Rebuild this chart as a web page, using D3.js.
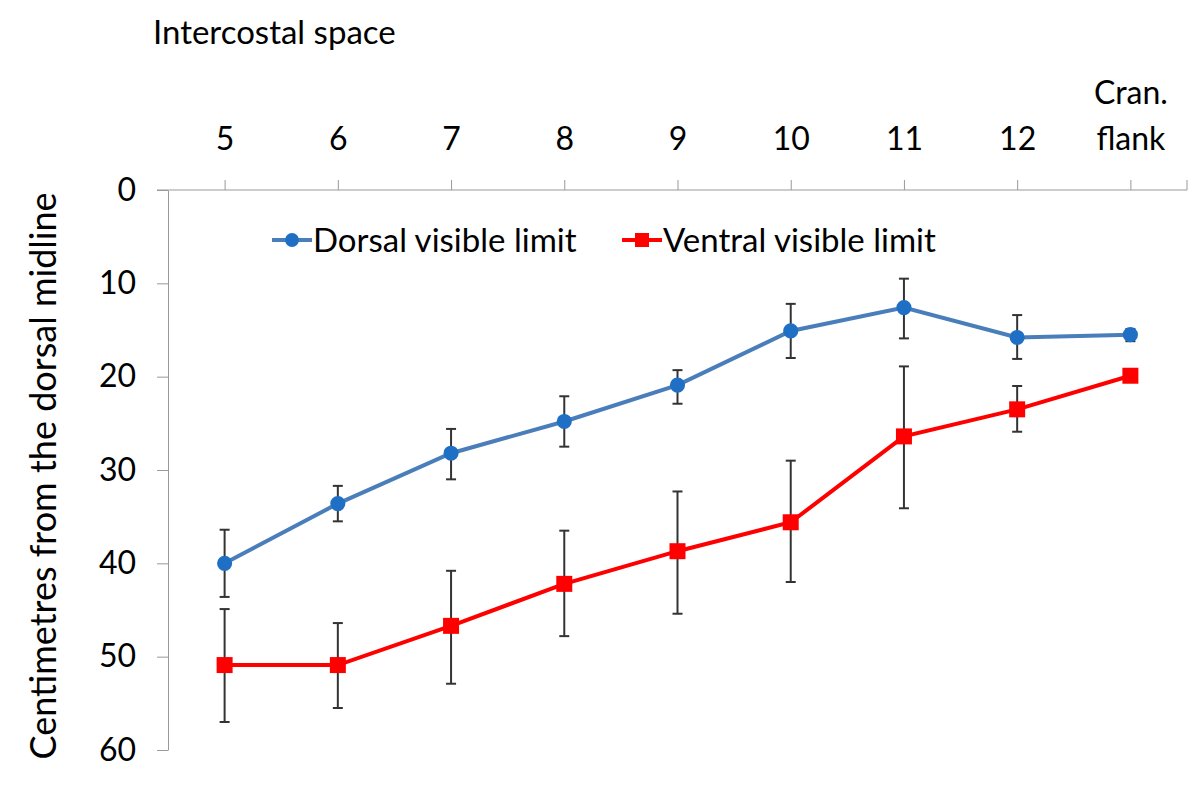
<!DOCTYPE html>
<html>
<head>
<meta charset="utf-8">
<script src="https://cdn.jsdelivr.net/npm/d3@7"></script>
<style>
  body { margin: 0; background: white; }
  svg, svg text { font-family: Lato, "Open Sans", sans-serif; }
</style>
</head>
<body>
<div id="chart"></div>
<script>
// data
var categories = [ "5", "6", "7", "8", "9", "10", "11", "12", "Cran. flank" ];
var dorsal     = [ 40.0, 33.6, 28.2, 24.8, 20.9, 15.1, 12.6, 15.8, 15.5 ];
var dorsalLo   = [ 36.4, 31.7, 25.6, 22.1, 19.3, 12.2, 9.5, 13.4, 14.9 ];
var dorsalHi   = [ 43.6, 35.5, 31.0, 27.5, 22.9, 18.0, 15.9, 18.1, 16.2 ];
var ventral    = [ 50.9, 50.9, 46.7, 42.2, 38.7, 35.6, 26.4, 23.5, 19.9 ];
var ventralLo  = [ 44.9, 46.4, 40.8, 36.5, 32.3, 29.0, 18.9, 21.0, 19.6 ];
var ventralHi  = [ 57.0, 55.5, 52.9, 47.8, 45.4, 42.0, 34.1, 25.9, 20.2 ];
var yTicks     = [ 0, 10, 20, 30, 40, 50, 60 ];

var width = 1200, height = 803;
var plot = { left: 168, right: 1187, top: 190, bottom: 750 };

var blueLine = "#4a7ebb", blueDot = "#1f6fc5", red = "#ff0000";

var svg = d3.select( "#chart" ).append( "svg" )
    .attr( "width", width )
    .attr( "height", height );

// scales
var x = d3.scalePoint().domain( categories ).range( [ plot.left, plot.right ] ).padding( 0.5 );
var y = d3.scaleLinear().domain( [ 0, 60 ] ).range( [ plot.top, plot.bottom ] );

// y axis
var yAxis = svg.append( "g" )
    .attr( "transform", "translate(" + plot.left + ",0)" )
    .call( d3.axisLeft( y ).tickValues( yTicks ).tickSize( 11 ).tickSizeOuter( 0 ).tickPadding( 21 ) );
yAxis.attr( "font-family", null ).attr( "font-size", null );
yAxis.selectAll( "path, line" ).attr( "stroke", "#999" );
yAxis.selectAll( "text" ).style( "font-size", "32px" ).attr( "fill", "#000" );

// x axis on top
var xAxis = svg.append( "g" )
    .attr( "transform", "translate(0," + plot.top + ")" )
    .call( d3.axisTop( x ).tickSize( 10 ).tickSizeOuter( 0 ).tickPadding( 30 ) );
xAxis.attr( "font-family", null ).attr( "font-size", null );
xAxis.select( ".domain" ).attr( "d", "M" + ( plot.left - 11 ) + ",0H" + plot.right );
xAxis.selectAll( "path, line" ).attr( "stroke", "#999" );
xAxis.append( "line" )
    .attr( "x1", plot.right ).attr( "x2", plot.right )
    .attr( "y1", 0 ).attr( "y2", -10 )
    .attr( "stroke", "#999" );
xAxis.selectAll( "text" )
    .style( "font-size", "32px" )
    .attr( "fill", "#000" )
    .each( function( d ) {
        var parts = d.split( " " );
        if( parts.length > 1 ) {
            var t = d3.select( this ).text( null );
            t.append( "tspan" ).attr( "x", 0 ).attr( "dy", "-1.45em" ).text( parts[ 0 ] );
            t.append( "tspan" ).attr( "x", 0 ).attr( "dy", "1.45em" ).text( parts[ 1 ] );
        }
    });

// axis titles
svg.append( "text" )
    .attr( "x", 153 ).attr( "y", 44 )
    .style( "font-size", "33px" )
    .text( "Intercostal space" );

svg.append( "text" )
    .attr( "transform", "translate(56,476) rotate(-90)" )
    .style( "text-anchor", "middle" )
    .style( "font-size", "36px" )
    .text( "Centimetres from the dorsal midline" );

// series drawing
function drawSeries( values, lo, hi, lineColor, markColor, shape )
{
    var g = svg.append( "g" );
    var idx = d3.range( values.length );

    // error bars
    var eb = g.selectAll( ".err" ).data( idx ).enter().append( "g" )
        .attr( "stroke", "#333" ).attr( "stroke-width", 2 );
    eb.append( "line" )
        .attr( "x1", function( i ) { return x( categories[ i ] ); } )
        .attr( "x2", function( i ) { return x( categories[ i ] ); } )
        .attr( "y1", function( i ) { return y( lo[ i ] ); } )
        .attr( "y2", function( i ) { return y( hi[ i ] ); } );
    [ lo, hi ].forEach( function( arr ) {
        eb.append( "line" )
            .attr( "x1", function( i ) { return x( categories[ i ] ) - 5; } )
            .attr( "x2", function( i ) { return x( categories[ i ] ) + 5; } )
            .attr( "y1", function( i ) { return y( arr[ i ] ); } )
            .attr( "y2", function( i ) { return y( arr[ i ] ); } );
    });

    // line
    var line = d3.line()
        .x( function( i ) { return x( categories[ i ] ); } )
        .y( function( i ) { return y( values[ i ] ); } );
    g.append( "path" )
        .datum( idx )
        .attr( "d", line )
        .attr( "fill", "none" )
        .attr( "stroke", lineColor )
        .attr( "stroke-width", 4 );

    // markers
    g.selectAll( ".mark" ).data( idx ).enter()
        .append( "path" )
        .attr( "transform", function( i ) { return "translate(" + x( categories[ i ] ) + "," + y( values[ i ] ) + ")"; } )
        .attr( "d", d3.symbol().type( shape ).size( shape === d3.symbolSquare ? 256 : 180 ) )
        .attr( "fill", markColor );
}

drawSeries( dorsal, dorsalLo, dorsalHi, blueLine, blueDot, d3.symbolCircle );
drawSeries( ventral, ventralLo, ventralHi, red, red, d3.symbolSquare );

// legend
var legend = [
    { name: "Dorsal visible limit", x: 272, line: blueLine, mark: blueDot, shape: d3.symbolCircle },
    { name: "Ventral visible limit", x: 622, line: red, mark: red, shape: d3.symbolSquare }
];
var lg = svg.selectAll( ".legend" ).data( legend ).enter().append( "g" )
    .attr( "transform", function( d ) { return "translate(" + d.x + ",240)"; } );
lg.append( "line" )
    .attr( "x1", 0 ).attr( "x2", 40 )
    .attr( "stroke", function( d ) { return d.line; } )
    .attr( "stroke-width", 4 );
lg.append( "path" )
    .attr( "transform", "translate(20,0)" )
    .attr( "d", function( d ) { return d3.symbol().type( d.shape ).size( d.shape === d3.symbolSquare ? 196 : 150 )(); } )
    .attr( "fill", function( d ) { return d.mark; } );
lg.append( "text" )
    .attr( "x", 41 ).attr( "dy", "0.35em" )
    .style( "font-size", "33px" )
    .text( function( d ) { return d.name; } );
</script>
</body>
</html>
